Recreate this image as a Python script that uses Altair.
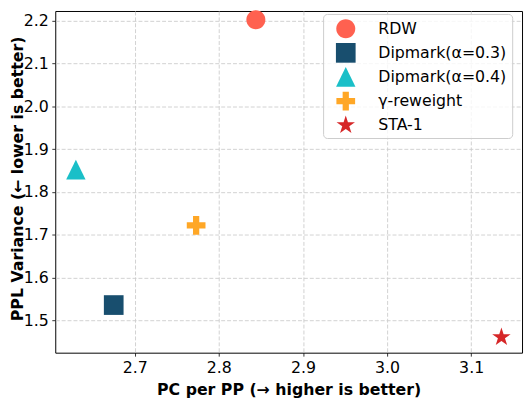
import math
import altair as alt
import pandas as pd

methods = ["RDW", "Dipmark(α=0.3)", "Dipmark(α=0.4)", "γ-reweight", "STA-1"]
pc_per_pp = [2.844, 2.675, 2.630, 2.773, 3.136]
ppl_variance = [2.202, 1.536, 1.852, 1.722, 1.461]
colors = ["#ff6150", "#184e6e", "#1abfc8", "#ffa726", "#d62728"]

x_ticks = [2.7, 2.8, 2.9, 3.0, 3.1]
y_ticks = [1.5, 1.6, 1.7, 1.8, 1.9, 2.0, 2.1, 2.2]

# marker shapes (unit box -1..1)
r = 0.965
circle = f"M{r},0A{r},{r},0,1,1,{-r},0A{r},{r},0,1,1,{r},0Z"
square = "M-1,-1L1,-1L1,1L-1,1Z"
triangle = "M0,-1L0.985,1L-0.985,1Z"
a, t = 0.95, 0.3167
plus = (f"M{-t},{-a}L{t},{-a}L{t},{-t}L{a},{-t}L{a},{t}L{t},{t}L{t},{a}"
        f"L{-t},{a}L{-t},{t}L{-a},{t}L{-a},{-t}L{-t},{-t}Z")
pts = []
for k in range(10):
    ang = math.radians(-90 + 36 * k)
    rad = 0.983 if k % 2 == 0 else 0.983 * 0.381966
    pts.append(f"{rad * math.cos(ang):.4f},{rad * math.sin(ang):.4f}")
star = "M" + "L".join(pts) + "Z"
shapes = [circle, square, triangle, plus, star]

df = pd.DataFrame({"method": methods, "pc": pc_per_pp, "var": ppl_variance})

FONT = "DejaVu Sans"

leg = alt.Legend(title=None, orient="none", legendX=272, legendY=3)

chart = alt.Chart(df).mark_point(filled=True, opacity=1, size=400, strokeWidth=0).encode(
    x=alt.X("pc:Q",
            scale=alt.Scale(domain=[2.6055, 3.1605], nice=False, zero=False),
            axis=alt.Axis(values=x_ticks, format=".1f",
                          title="PC per PP (→ higher is better)")),
    y=alt.Y("var:Q",
            scale=alt.Scale(domain=[1.4248, 2.2225], nice=False, zero=False),
            axis=alt.Axis(values=y_ticks, format=".1f",
                          title="PPL Variance (← lower is better)",
                          titleX=-38, titleY=170, titleAngle=270,
                          titleBaseline="middle", titleAlign="center")),
    color=alt.Color("method:N", scale=alt.Scale(domain=methods, range=colors),
                    legend=leg),
    shape=alt.Shape("method:N", scale=alt.Scale(domain=methods, range=shapes),
                    legend=leg),
).properties(
    width=474,
    height=347,
    autosize=alt.AutoSizeParams(type="none"),
    padding={"left": 48, "top": 0, "right": 2, "bottom": 45},
).configure_view(
    stroke="black", strokeWidth=1
).configure_axis(
    domain=False,
    grid=True,
    gridColor="#cccccc",
    gridDash=[4, 2],
    gridWidth=0.9,
    ticks=True,
    tickColor="black",
    tickSize=3.5,
    tickWidth=0.8,
    labelFont=FONT,
    labelFontSize=16,
    labelColor="black",
    labelPadding=3.5,
    titleFont=FONT,
    titleFontSize=16,
    titleFontWeight="bold",
    titleColor="black",
).configure_axisX(
    titlePadding=6,
).configure_legend(
    labelFont=FONT,
    labelFontSize=16,
    labelColor="black",
    symbolSize=400,
    symbolStrokeWidth=0,
    symbolOpacity=1,
    labelOffset=23,
    rowPadding=4.5,
    padding=5,
    symbolOffset=8,
    strokeColor="#cccccc",
    fillColor="rgba(255,255,255,0.8)",
    cornerRadius=4,
)

chart.save("out.html", embed_options={"renderer": "svg", "actions": False})
